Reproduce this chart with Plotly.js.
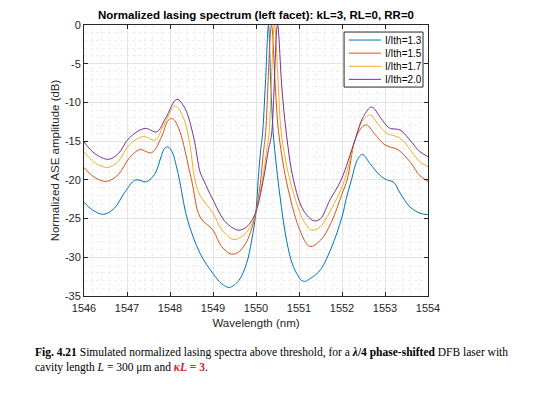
<!DOCTYPE html>
<html>
<head>
<meta charset="utf-8">
<script src="https://cdn.plot.ly/plotly-3.0.1.min.js"></script>
<style>html,body{margin:0;padding:0;background:#fff;}#chart{width:537px;height:399px;}</style>
</head>
<body>
<div id="chart"></div>
<script>
// Wavelength (nm) and normalized ASE amplitude (dB)
const wl13 = [1546.0,1546.2,1546.45,1546.7,1546.95,1547.2,1547.45,1547.65,1547.8,1547.88,1547.96,1548.05,1548.2,1548.4,1548.7,1549.0,1549.2,1549.38,1549.6,1549.78,1549.9,1550.0,1550.05,1550.11,1550.15,1550.22,1550.29,1550.34,1550.4,1550.48,1550.56,1550.71,1550.87,1551.1,1551.3,1551.5,1551.75,1552.0,1552.1,1552.22,1552.35,1552.47,1552.65,1552.88,1553.04,1553.2,1553.35,1553.58,1553.81,1554.0];
const amp13 = [-22.9,-23.9,-24.45,-23.7,-21.6,-20.0,-20.25,-19.2,-16.9,-15.9,-15.75,-16.4,-19.5,-25.0,-29.5,-32.1,-33.4,-33.9,-33.0,-30.8,-27.8,-24.1,-20.0,-16.1,-14.2,-7.5,0,-7.0,-13.9,-18.5,-22.2,-27.8,-31.2,-33.1,-32.6,-31.6,-28.8,-24.8,-22.4,-20.0,-17.5,-16.7,-17.9,-19.4,-20.0,-20.3,-21.7,-23.5,-24.3,-24.5];

const wl15 = [1546.0,1546.25,1546.53,1546.8,1547.05,1547.3,1547.57,1547.8,1547.96,1548.06,1548.2,1548.5,1548.7,1549.0,1549.2,1549.43,1549.6,1549.78,1549.9,1550.0,1550.1,1550.17,1550.22,1550.36,1550.45,1550.52,1550.65,1550.79,1551.02,1551.25,1551.5,1551.75,1552.0,1552.12,1552.3,1552.45,1552.57,1552.75,1553.0,1553.3,1553.6,1553.8,1554.0];
const amp15 = [-18.4,-19.7,-20.2,-19.3,-17.2,-16.1,-16.5,-14.5,-12.3,-12.1,-13.3,-20.0,-24.8,-26.5,-28.6,-29.6,-29.3,-28.0,-26.3,-24.1,-20.5,-16.5,-14.2,0,-8.0,-13.6,-18.5,-22.2,-26.5,-28.6,-27.8,-25.5,-21.8,-20.0,-14.9,-13.3,-12.9,-14.0,-15.5,-16.1,-17.8,-19.4,-20.2];

const wl17 = [1546.0,1546.25,1546.55,1546.8,1547.05,1547.38,1547.65,1547.85,1548.12,1548.3,1548.45,1548.58,1548.7,1549.0,1549.2,1549.47,1549.65,1549.82,1549.92,1550.0,1550.15,1550.24,1550.3,1550.43,1550.52,1550.58,1550.7,1550.83,1551.1,1551.3,1551.5,1551.75,1552.0,1552.1,1552.3,1552.45,1552.65,1552.85,1553.05,1553.35,1553.6,1553.8,1554.0];
const amp17 = [-16.35,-17.8,-18.4,-17.6,-15.5,-14.4,-14.85,-13.0,-10.46,-11.8,-15.0,-20.0,-22.0,-24.3,-26.4,-27.7,-27.4,-26.5,-25.5,-24.1,-20.0,-16.5,-14.2,0,-8.0,-13.6,-17.8,-20.9,-25.2,-26.5,-26.0,-23.8,-20.9,-19.3,-14.9,-12.6,-11.6,-12.9,-14.0,-14.6,-16.2,-17.6,-18.3];

const wl20 = [1546.0,1546.25,1546.57,1546.8,1547.05,1547.42,1547.69,1547.9,1548.16,1548.35,1548.55,1548.7,1548.78,1549.0,1549.3,1549.59,1549.75,1549.86,1550.0,1550.17,1550.29,1550.36,1550.5,1550.6,1550.71,1550.87,1551.1,1551.35,1551.5,1551.72,1551.98,1552.3,1552.5,1552.69,1552.9,1553.1,1553.35,1553.6,1553.8,1554.0];
const amp20 = [-15.1,-16.6,-17.35,-16.6,-14.6,-13.35,-13.8,-12.0,-9.6,-10.8,-14.5,-19.0,-20.0,-22.6,-25.5,-26.5,-26.2,-25.6,-24.1,-20.0,-16.1,-14.2,0,-8.0,-14.2,-20.0,-23.9,-25.3,-25.0,-22.6,-20.0,-14.9,-11.8,-10.6,-12.0,-13.3,-13.56,-15.0,-16.3,-17.0];

const seriesNames = ['I/Ith=1.3','I/Ith=1.5','I/Ith=1.7','I/Ith=2.0'];
const xTicks = [1546,1547,1548,1549,1550,1551,1552,1553,1554];
const yTicks = [-35,-30,-25,-20,-15,-10,-5,0];

const colors = ['#0072BD','#D95319','#EDB120','#7E2F8E'];
const xs = [wl13, wl15, wl17, wl20];
const ys = [amp13, amp15, amp17, amp20];

const traces = xs.map((x, i) => ({
  x: x, y: ys[i], type: 'scatter', mode: 'lines', name: seriesNames[i],
  showlegend: false,
  line: {color: colors[i], width: 1, shape: 'spline', smoothing: 1}
}));

const sans = 'Liberation Sans, Arial, sans-serif';
const axisFont = {family: sans, size: 11, color: '#262626'};

// Legend box (MATLAB style), drawn in paper coordinates
const plotW = 344, plotH = 271;
const legLeft = 0.756, legRight = 0.9855, legTop = 0.974, legBottom = 0.771;
const rowStep = 13.1 / plotH, firstRow = 8 / plotH;
const shapes = [{
  type: 'rect', xref: 'paper', yref: 'paper', x0: legLeft, x1: legRight, y0: legBottom, y1: legTop,
  fillcolor: '#ffffff', line: {color: '#262626', width: 1}, layer: 'above'
}];
const annotations = [];
seriesNames.forEach((n, i) => {
  const yy = legTop - firstRow - i * rowStep;
  shapes.push({type: 'line', xref: 'paper', yref: 'paper', x0: 0.770, x1: 0.8634, y0: yy, y1: yy,
    line: {color: colors[i], width: 1}, layer: 'above'});
  annotations.push({xref: 'paper', yref: 'paper', x: 0.869, y: yy, xanchor: 'left', yanchor: 'middle',
    showarrow: false, text: n, font: {family: sans, size: 10, color: '#000'}});
});
annotations.push({
  xref: 'paper', yref: 'paper', x: -0.147, y: -0.178, xanchor: 'left', yanchor: 'top',
  align: 'left', showarrow: false,
  font: {family: 'Liberation Serif, Times New Roman, serif', size: 11.5, color: '#000'},
  text: '<b>Fig. 4.21</b> Simulated normalized lasing spectra above threshold, for a <b><i>λ</i>/4 phase-shifted</b> DFB laser with<br>cavity length <i>L</i> = 300 μm and <span style="color:#e0202a"><b><i>κL</i> = 3</b></span>.'
});

const layout = {
  width: 537, height: 399,
  margin: {l: 84, r: 109, t: 25, b: 103, pad: 0},
  paper_bgcolor: '#ffffff', plot_bgcolor: '#ffffff',
  showlegend: false,
  title: {
    text: '<b>Normalized lasing spectrum (left facet): kL=3, RL=0, RR=0</b>',
    font: {family: sans, size: 11.5, color: '#000'},
    x: 0.5, xref: 'paper', xanchor: 'center', y: 0.962, yref: 'container', yanchor: 'middle'
  },
  xaxis: {
    range: [1546, 1554], tickvals: xTicks, ticktext: xTicks.map(String),
    showline: true, linecolor: '#262626', linewidth: 1, mirror: 'ticks',
    ticks: 'inside', ticklen: 4, tickcolor: '#262626', ticklabelstandoff: 2,
    showgrid: true, gridcolor: '#e3e3e3', gridwidth: 1, zeroline: false,
    minor: {dtick: 0.2, showgrid: true, gridcolor: '#eeeeee', griddash: 'dot', ticks: ''},
    tickfont: axisFont,
    title: {text: 'Wavelength (nm)', font: {family: sans, size: 11.5, color: '#262626'}, standoff: 5}
  },
  yaxis: {
    range: [-35, 0], tickvals: yTicks, ticktext: yTicks.map(String),
    showline: true, linecolor: '#262626', linewidth: 1, mirror: 'ticks',
    ticks: 'inside', ticklen: 4, tickcolor: '#262626',
    showgrid: true, gridcolor: '#e3e3e3', gridwidth: 1, zeroline: false,
    minor: {dtick: 1, showgrid: true, gridcolor: '#eeeeee', griddash: 'dot', ticks: ''},
    tickfont: axisFont,
    title: {text: 'Normalized ASE amplitude (dB)', font: {family: sans, size: 11.5, color: '#262626'}, standoff: 2}
  },
  shapes: shapes,
  annotations: annotations
};

Plotly.newPlot('chart', traces, layout, {displayModeBar: false, staticPlot: true});
</script>
</body>
</html>
